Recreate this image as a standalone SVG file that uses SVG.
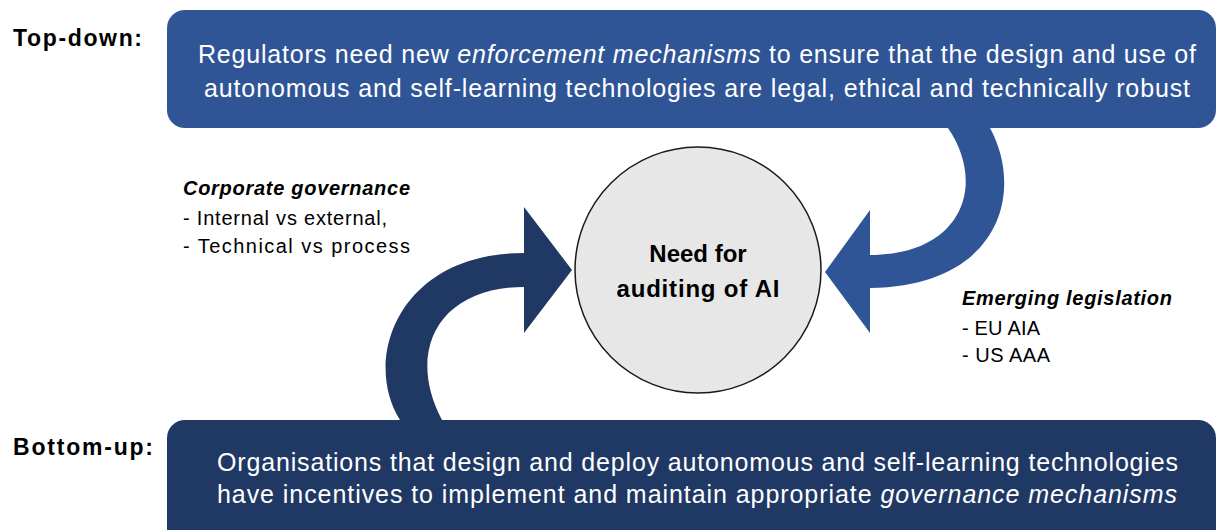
<svg xmlns="http://www.w3.org/2000/svg" width="1218" height="530" viewBox="0 0 1218 530">
<style>
.lbl{font-family:"Liberation Sans",Arial,sans-serif;font-weight:bold;font-size:23px;fill:#000}
.box{font-family:"Liberation Sans",Arial,sans-serif;font-size:25px;fill:#fff}
.side{font-family:"Liberation Sans",Arial,sans-serif;font-size:20px;fill:#000}
.hd{font-weight:bold;font-style:italic}
.ctr{font-family:"Liberation Sans",Arial,sans-serif;font-weight:bold;font-size:24px;fill:#000;text-anchor:middle}
</style>
<g id="connectors">
  <path id="arrow-top" fill="#2F5597" d="M 948 120 L 990 120 L 990 128 C 1024 190, 1002 286, 870 288 L 870 333 L 825 272 L 870 210 L 870 255 C 962 255, 987 185, 948 128 Z"/>
  <path id="arrow-bottom" fill="#203864" d="M 400 430 L 400 420 C 362 360, 398 253, 524 253 L 524 207 L 572 270 L 524 333 L 524 287 C 440 287, 405 350, 442 420 L 442 430 Z"/>
</g>
<g id="top-box">
  <rect x="167" y="10" width="1049" height="118" rx="18" fill="#2F5597"/>
  <text class="box" x="198" y="63" textLength="998" lengthAdjust="spacing">Regulators need new <tspan font-style="italic">enforcement mechanisms </tspan>to ensure that the design and use of</text>
  <text class="box" x="204" y="97" textLength="986" lengthAdjust="spacing">autonomous and self-learning technologies are legal, ethical and technically robust</text>
</g>
<g id="bottom-box">
  <rect x="167" y="420" width="1049" height="130" rx="18" fill="#203864"/>
  <text class="box" x="217" y="471" textLength="961" lengthAdjust="spacing">Organisations that design and deploy autonomous and self-learning technologies</text>
  <text class="box" x="217" y="503" textLength="960" lengthAdjust="spacing">have incentives to implement and maintain appropriate <tspan font-style="italic">governance mechanisms</tspan></text>
</g>
<g id="center">
  <circle cx="698" cy="270" r="123" fill="#E7E7E7" stroke="#1a1a1a" stroke-width="1.5"/>
  <text class="ctr" x="698" y="262">Need for</text>
  <text class="ctr" x="698" y="297" textLength="163" lengthAdjust="spacing">auditing of AI</text>
</g>
<g id="label-top">
  <text class="lbl" x="13" y="46" textLength="129" lengthAdjust="spacing">Top-down:</text>
</g>
<g id="label-bottom">
  <text class="lbl" x="13" y="455" textLength="140" lengthAdjust="spacing">Bottom-up:</text>
</g>
<g id="corporate">
  <text class="side hd" x="183" y="195" textLength="227" lengthAdjust="spacing">Corporate governance</text>
  <text class="side" x="183" y="225" textLength="204" lengthAdjust="spacing">- Internal vs external,</text>
  <text class="side" x="183" y="253" textLength="227" lengthAdjust="spacing">- Technical vs process</text>
</g>
<g id="legislation">
  <text class="side hd" x="962" y="305" textLength="210" lengthAdjust="spacing">Emerging legislation</text>
  <text class="side" x="962" y="335" textLength="78" lengthAdjust="spacing">- EU AIA</text>
  <text class="side" x="962" y="362" textLength="88" lengthAdjust="spacing">- US AAA</text>
</g>
</svg>
